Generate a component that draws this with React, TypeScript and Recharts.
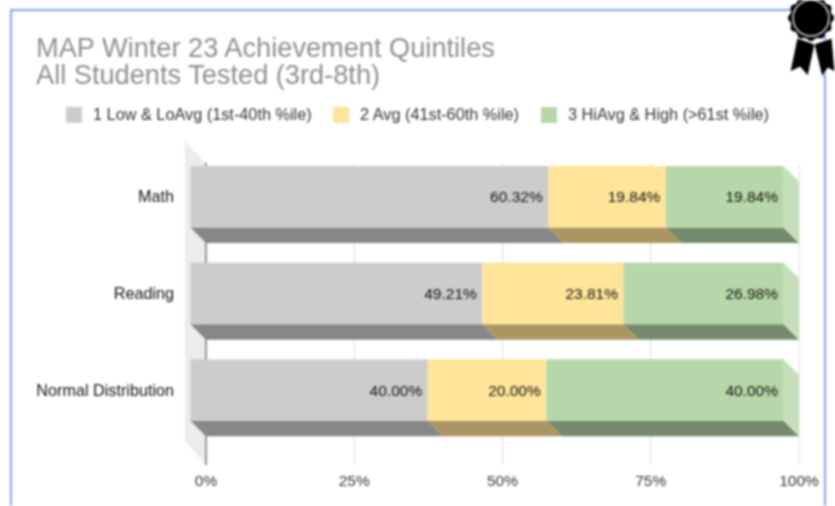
import React from 'react';
import { BarChart, Bar, XAxis, YAxis, CartesianGrid, Legend, LabelList, ReferenceArea } from 'recharts';

// Chart values
const categories = ['Math', 'Reading', 'Normal Distribution'];
const lowValues = [60.32, 49.21, 40.0];
const avgValues = [19.84, 23.81, 20.0];
const highValues = [19.84, 26.98, 40.0];
const xTicks = [0, 25, 50, 75, 100];

const seriesNames = [
  '1 Low & LoAvg (1st-40th %ile)',
  '2 Avg (41st-60th %ile)',
  '3 HiAvg & High (>61st %ile)',
];
const seriesColors = ['#cccccc', '#ffe599', '#b6d7a8'];
const bottomColors = ['#878787', '#ab9663', '#768a6d'];
const sideColor = '#c6dfbb';

const FONT = '"Liberation Sans", Arial, sans-serif';
const DEPTH = 15.5;
const PAD_TOP = -7;
const PAD_BOTTOM = 19;

const data = categories.map((name, i) => ({
  name,
  low: lowValues[i],
  avg: avgValues[i],
  high: highValues[i],
}));

// fake 3D bar: front face shifted left by the depth, floor face below it
function bar3d(series: number) {
  return (props: any) => {
    const { x, y, width, height } = props;
    const fx = x - DEPTH;
    const fh = height - DEPTH;
    return (
      <g>
        <polygon
          points={`${fx},${y + fh} ${fx + width},${y + fh} ${x + width},${y + height} ${x},${y + height}`}
          fill={bottomColors[series]}
        />
        {series === 2 && (
          <polygon
            points={`${fx + width},${y} ${x + width},${y + DEPTH} ${x + width},${y + height} ${fx + width},${y + fh}`}
            fill={sideColor}
          />
        )}
        <rect x={fx} y={y} width={width} height={fh} fill={seriesColors[series]} />
      </g>
    );
  };
}

function valueLabel(props: any) {
  const { x, y, width, height, value } = props;
  return (
    <text
      x={x + width - DEPTH - 5.5}
      y={y + (height - DEPTH) / 2}
      textAnchor="end"
      dominantBaseline="central"
      fontFamily={FONT}
      fontSize={15.5}
      fill="#111111"
    >
      {Number(value).toFixed(2)}%
    </text>
  );
}

function CategoryTick(props: any) {
  const { x, y, payload } = props;
  return (
    <text x={x} y={y - 8} textAnchor="end" dominantBaseline="central" fontFamily={FONT} fontSize={16.2} fill="#111111">
      {payload.value}
    </text>
  );
}

// left wall of the 3D plot, and the dark zero line on it
// y and height come from the padded scale range, so undo the padding
function Wall(props: any) {
  const { x, y, height } = props;
  const top = y + PAD_TOP * -1;
  const bottom = y + height + PAD_BOTTOM;
  return (
    <g>
      <polygon
        points={`${x - 21},${top - 22} ${x},${top} ${x},${bottom} ${x - 21},${bottom - 24}`}
        fill="#ececec"
      />
      <line x1={x} x2={x} y1={top} y2={bottom} stroke="#777777" strokeWidth={1.5} />
    </g>
  );
}

function LegendRow(props: any) {
  const lefts = [66, 333, 541];
  return (
    <div style={{ position: 'relative', height: 18 }}>
      {(props.payload || []).map((item: any, i: number) => (
        <div key={item.value} style={{ position: 'absolute', left: lefts[i], top: -1, display: 'flex', alignItems: 'center' }}>
          <span style={{ width: 16, height: 16, background: item.color, display: 'inline-block', marginRight: 11 }} />
          <span style={{ fontFamily: FONT, fontSize: 16.3, color: '#333333', whiteSpace: 'nowrap' }}>{item.value}</span>
        </div>
      ))}
    </div>
  );
}

function Medal() {
  const scallops = Array.from({ length: 12 }, (_, i) => (i * Math.PI) / 6);
  return (
    <svg width={60} height={80} style={{ position: 'absolute', left: 781, top: 0 }}>
      <polygon points="16,38 9,72 19,67 27,76 34,44" fill="#000" stroke="#fff" strokeWidth={1} />
      <polygon points="33,44 41,77 47,68 54,72 51,38" fill="#000" stroke="#fff" strokeWidth={1} />
      {scallops.map((a) => (
        <circle key={a} cx={30 + 19 * Math.cos(a)} cy={18 + 19 * Math.sin(a)} r={4} fill="#000" />
      ))}
      <circle cx={30} cy={18} r={21} fill="#000" />
      <circle cx={30} cy={18} r={18} fill="none" stroke="#dddddd" strokeWidth={1.5} />
    </svg>
  );
}

export default function App() {
  return (
    <div style={{ position: 'fixed', left: 0, top: 0, width: 835, height: 506, overflow: 'hidden', background: '#fff', filter: 'blur(0.9px)' }}>
      <div style={{ position: 'absolute', left: 10, top: 9, width: 816, height: 520, border: '2px solid #7ba4ee', boxSizing: 'border-box' }} />
      <div style={{ position: 'absolute', left: 36, top: 34, fontFamily: FONT, fontSize: 27.2, lineHeight: '27px', color: '#8f8f8f', whiteSpace: 'nowrap' }}>
        MAP Winter 23 Achievement Quintiles
        <br />
        All Students Tested (3rd-8th)
      </div>
      <div style={{ position: 'absolute', left: 0, top: 0 }}>
        <BarChart
          width={835}
          height={506}
          data={data}
          layout="vertical"
          barSize={77}
          margin={{ top: 163, right: 36, bottom: 0, left: 0 }}
        >
          <ReferenceArea x1={0} x2={100} shape={Wall} fill="none" />
          <CartesianGrid horizontal={false} stroke="#dddddd" />
          <XAxis
            type="number"
            domain={[0, 100]}
            ticks={xTicks}
            tickFormatter={(v: number) => `${v}%`}
            axisLine={false}
            tickLine={false}
            height={41}
            tickMargin={4}
            tick={{ fontFamily: FONT, fontSize: 15.5, fill: '#333333' }}
            interval={0}
          />
          <YAxis
            type="category"
            dataKey="name"
            width={206}
            axisLine={false}
            tickLine={false}
            tickMargin={26}
            padding={{ top: PAD_TOP, bottom: PAD_BOTTOM }}
            tick={CategoryTick}
            interval={0}
          />
          <Legend
            verticalAlign="middle"
            layout="horizontal"
            content={LegendRow}
            wrapperStyle={{ position: 'absolute', top: 106, left: 0, width: 835 }}
          />
          <Bar dataKey="low" name={seriesNames[0]} stackId="a" fill={seriesColors[0]} shape={bar3d(0)} isAnimationActive={false}>
            <LabelList dataKey="low" content={valueLabel} />
          </Bar>
          <Bar dataKey="avg" name={seriesNames[1]} stackId="a" fill={seriesColors[1]} shape={bar3d(1)} isAnimationActive={false}>
            <LabelList dataKey="avg" content={valueLabel} />
          </Bar>
          <Bar dataKey="high" name={seriesNames[2]} stackId="a" fill={seriesColors[2]} shape={bar3d(2)} isAnimationActive={false}>
            <LabelList dataKey="high" content={valueLabel} />
          </Bar>
        </BarChart>
      </div>
      <Medal />
    </div>
  );
}
